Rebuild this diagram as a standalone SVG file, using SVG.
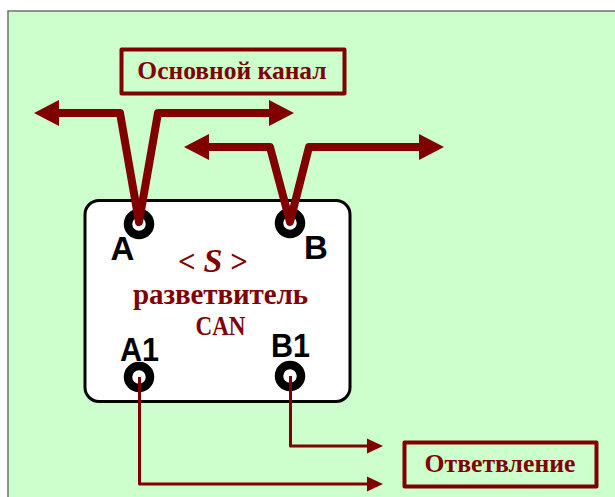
<svg xmlns="http://www.w3.org/2000/svg" width="615" height="497" viewBox="0 0 615 497">
<style>
.lbl{fill:none;stroke:#800000;stroke-width:4;stroke-linejoin:round}
.t{font-family:"Liberation Serif",serif;font-weight:bold;fill:#800000;text-anchor:middle}
.p{font-family:"Liberation Sans",Arial,sans-serif;font-weight:bold;fill:#000;font-size:33px;text-anchor:middle}
.port{fill:#fff;stroke:#000;stroke-width:8.500}
.thick{fill:none;stroke:#800000;stroke-width:8;stroke-linejoin:round}
.thin{fill:none;stroke:#800000;stroke-width:3;stroke-linejoin:round}
.head{fill:#800000}
</style>
<rect x="8" y="11" width="608" height="487" fill="#ccffcc" stroke="#707070" stroke-width="1.5"/>
<g id="splitter">
<rect x="85" y="200.500" width="265" height="201" rx="14" fill="#fff" stroke="#000" stroke-width="3"/>
<text class="t" x="213" y="272" font-size="31">&lt; <tspan font-style="italic" font-size="34">S</tspan> &gt;</text>
<text class="t" x="220.500" y="304" font-size="29" textLength="175">разветвитель</text>
<text class="t" x="220.500" y="335" font-size="28" textLength="50" lengthAdjust="spacingAndGlyphs">CAN</text>
</g>
<g id="port-A"><circle class="port" cx="139" cy="224" r="11"/><text class="p" x="122.500" y="260">A</text></g>
<g id="port-B"><circle class="port" cx="290" cy="223" r="11"/><text class="p" x="316" y="259">B</text></g>
<g id="port-A1"><circle class="port" cx="139" cy="377" r="11"/><text class="p" x="139.500" y="361" textLength="39" lengthAdjust="spacingAndGlyphs">A1</text></g>
<g id="port-B1"><circle class="port" cx="290" cy="376" r="11"/><text class="p" x="290.500" y="357" textLength="39" lengthAdjust="spacingAndGlyphs">B1</text></g>
<g id="label-main"><rect class="lbl" x="121.500" y="49.500" width="223" height="44"/><text class="t" x="232" y="79" font-size="25.500">Основной канал</text></g>
<g id="label-branch"><rect class="lbl" x="404.500" y="442.500" width="192" height="44"/><text class="t" x="500" y="472" font-size="25.700">Ответвление</text></g>
<g id="connectors">
<path class="thick" d="M58 113H120L139 222L158 113H270"/>
<polygon class="head" points="34,113 59,100 59,126"/>
<polygon class="head" points="294,113 269,100 269,126"/>
<path class="thick" d="M208 147H270L290 222L309 147H420"/>
<polygon class="head" points="184,147 209,134 209,160"/>
<polygon class="head" points="444,147 419,134 419,160"/>
<path class="thin" d="M139.500 377V484H368"/>
<polygon class="head" points="383,484 367,476.500 367,491.500"/>
<path class="thin" d="M290.500 376V446H368"/>
<polygon class="head" points="383,446 367,438.500 367,453.500"/>
</g>
</svg>
